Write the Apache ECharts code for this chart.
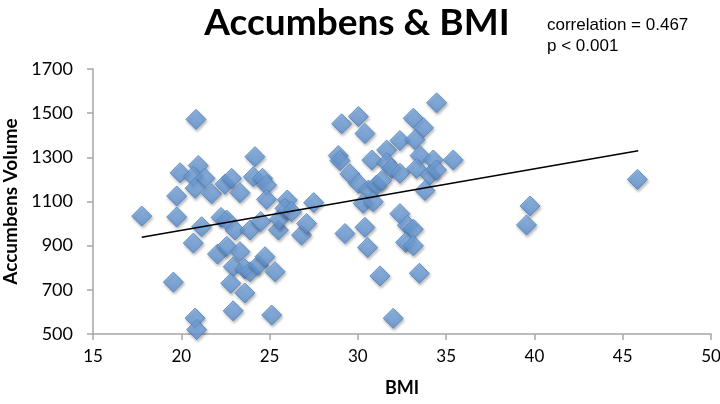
<!DOCTYPE html>
<html>
<head>
<meta charset="utf-8">
<script src="https://cdn.jsdelivr.net/npm/echarts@6/dist/echarts.min.js"></script>
<style>
html,body{margin:0;padding:0;background:#fff;}
#c{width:720px;height:404px;}
</style>
</head>
<body>
<div id="c"></div>
<script>
// BMI values
var bmi = [
17.76,19.55,19.74,19.74,19.93,
20.83,20.96,20.68,21.34,20.78,21.72,21.15,20.68,20.78,20.87,22.05,22.25,22.57,22.47,22.85,22.57,22.94,22.8,22.94,
23.32,23.04,23.32,23.6,23.6,23.89,23.89,24.17,24.08,24.6,24.83,24.83,24.5,24.36,24.74,25.31,25.12,25.5,25.55,26.0,25.87,26.25,26.81,27.1,27.5,
28.89,28.99,29.08,30.03,30.4,30.79,31.63,31.63,31.91,32.38,29.55,30.03,30.6,31.06,31.35,30.3,30.87,29.27,30.4,30.55,31.25,32.0,32.38,32.8,33.14,32.7,33.14,33.48,33.14,33.71,32.38,33.23,33.52,34.27,35.4,33.32,34.08,34.46,33.8,34.46,
39.75,39.55,45.83
];
// Accumbens volume values
var volume = [
1034,735,1125,1030,1230,
1472,1263,1213,1205,1160,1135,986,912,572,520,862,1028,1016,1178,1205,897,805,730,605,
1140,971,873,795,686,971,782,1303,1212,1205,1175,1110,1009,812,850,782,586,971,1020,1107,1069,1054,948,1000,1095,
1308,1285,1452,1485,1408,1288,1333,1275,1250,1228,1225,1182,1152,1175,1195,1092,1099,955,983,892,763,571,1045,992,975,915,900,775,1477,1434,1376,1380,1308,1288,1288,1250,1220,1243,1150,1547,
1080,994,1200
];
// Trend line endpoints
var trendX = [17.76, 45.88];
var trendY = [938, 1330];
var xTicks = [15,20,25,30,35,40,45,50];
var yTicks = [500,700,900,1100,1300,1500,1700];

var pts = bmi.map(function(b,i){return [b, volume[i]];});
var trend = trendX.map(function(x,i){return [x, trendY[i]];});

var chart = echarts.init(document.getElementById('c'), null, {renderer:'canvas'});
var axisFont = 'Lato, "Open Sans", sans-serif';
chart.setOption({
  animation:false,
  backgroundColor:'#fff',
  title:[{
    text:'Accumbens & BMI',
    left:352, top:0, textAlign:'center',
    textStyle:{fontFamily:axisFont, fontWeight:'bold', fontSize:37, color:'#000'}
  },{
    text:'correlation = 0.467\np < 0.001',
    left:542, top:10,
    textStyle:{fontFamily:'"Liberation Sans", Arial, sans-serif', fontWeight:'normal', fontSize:17, color:'#000', lineHeight:21}
  }],
  grid:{left:93, right:9, top:69, bottom:70, containLabel:false, outerBoundsMode:'none'},
  xAxis:{
    type:'value', min:15, max:50, interval:5,
    name:'BMI', nameLocation:'middle', nameGap:45,
    nameTextStyle:{fontFamily:axisFont, fontWeight:'bold', fontSize:18, color:'#000'},
    axisLine:{show:true, onZero:false, lineStyle:{color:'#a6a6a6', width:1.5}},
    axisTick:{show:true, inside:false, length:6, lineStyle:{color:'#a6a6a6', width:1.5}},
    axisLabel:{fontFamily:axisFont, fontSize:17, color:'#000', margin:14,
      formatter:function(v){return xTicks.indexOf(v)>=0? String(v):'';}},
    splitLine:{show:false}
  },
  yAxis:{
    type:'value', min:500, max:1700, interval:200,
    name:'Accumbens Volume', nameLocation:'middle', nameGap:71, nameRotate:90,
    nameTextStyle:{fontFamily:axisFont, fontWeight:'bold', fontSize:19, color:'#000'},
    axisLine:{show:true, onZero:false, lineStyle:{color:'#a6a6a6', width:1.5}},
    axisTick:{show:true, inside:false, length:6, lineStyle:{color:'#a6a6a6', width:1.5}},
    axisLabel:{fontFamily:axisFont, fontSize:18, color:'#000', margin:20,
      formatter:function(v){return yTicks.indexOf(v)>=0? String(v):'';}},
    splitLine:{show:false}
  },
  series:[{
    type:'scatter',
    data:pts,
    symbol:'diamond',
    symbolSize:20,
    itemStyle:{
      color:new echarts.graphic.LinearGradient(0,0,0,1,[{offset:0,color:'#80b0e6'},{offset:1,color:'#5e90d0'}]),
      borderColor:'#4f81bd', borderWidth:1,
      shadowBlur:3, shadowColor:'rgba(0,0,0,0.35)', shadowOffsetX:1, shadowOffsetY:2
    },
    z:2
  },{
    type:'line',
    data:trend,
    symbol:'none',
    lineStyle:{color:'#000', width:1.6},
    z:3
  }]
});
</script>
</body>
</html>
